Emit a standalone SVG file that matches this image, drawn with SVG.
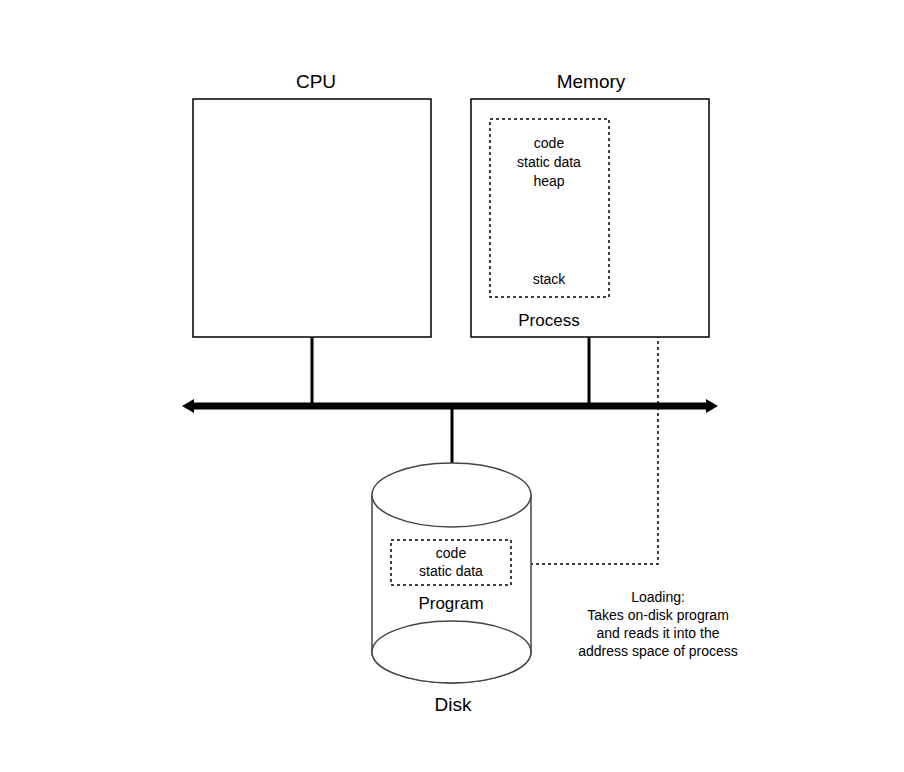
<svg xmlns="http://www.w3.org/2000/svg" width="904" height="772" viewBox="0 0 904 772">
<style>
text{font-family:"Liberation Sans",Arial,sans-serif;fill:#000;text-anchor:middle}
.s{font-size:14px}.l{font-size:19px}
.box{fill:#fff;stroke:#000;stroke-width:1.5}
.dash{fill:none;stroke:#000;stroke-width:1.5;stroke-dasharray:3,3}
.disk{fill:#fff;stroke:#444;stroke-width:1.5}
</style>
<defs>
<marker id="ah" viewBox="0 0 10 10" refX="9" refY="5" markerWidth="8" markerHeight="8" markerUnits="userSpaceOnUse" orient="auto"><path d="M0,0L10,5L0,10z" fill="#000"/></marker>
</defs>
<rect width="904" height="772" fill="#fff"/>
<g id="connectors">
<line x1="312" y1="337" x2="312" y2="406" stroke="#000" stroke-width="3"/>
<line x1="589" y1="337" x2="589" y2="406" stroke="#000" stroke-width="3"/>
<line x1="452" y1="406" x2="452" y2="464" stroke="#000" stroke-width="3"/>
<line x1="192" y1="406" x2="708" y2="406" stroke="#000" stroke-width="7"/>
<path d="M182,406L194,399L194,413z M718,406L706,399L706,413z" fill="#000"/>
<path class="dash" d="M512,564H658V209H620" marker-end="url(#ah)"/>
</g>
<g id="cpu">
<rect class="box" x="193" y="99" width="238" height="238"/>
<text class="l" x="316" y="88">CPU</text>
</g>
<g id="memory">
<rect class="box" x="471" y="99" width="238" height="238"/>
<text class="l" x="591" y="88">Memory</text>
<text class="l" x="549" y="326" style="font-size:17px">Process</text>
</g>
<g id="process">
<rect class="dash" x="490" y="119" width="119" height="178"/>
<text class="s" x="549" y="148">code</text>
<text class="s" x="549" y="167">static data</text>
<text class="s" x="549" y="186">heap</text>
<text class="s" x="549" y="284">stack</text>
</g>
<g id="disk">
<path class="disk" d="M372,495V652A79.5,31 0 0 0 531,652V495"/>
<ellipse class="disk" cx="451.5" cy="652" rx="79.5" ry="31"/>
<ellipse class="disk" cx="451.5" cy="495" rx="79.5" ry="32"/>
<text class="l" x="453" y="711">Disk</text>
</g>
<g id="program">
<rect class="dash" x="391" y="540" width="120" height="45"/>
<text class="s" x="451" y="558">code</text>
<text class="s" x="451" y="576">static data</text>
<text class="l" x="451" y="609" style="font-size:17px">Program</text>
</g>
<g id="note">
<text class="s" x="658" y="602">Loading:</text>
<text class="s" x="658" y="620">Takes on-disk program</text>
<text class="s" x="658" y="638">and reads it into the</text>
<text class="s" x="658" y="656">address space of process</text>
</g>
</svg>
